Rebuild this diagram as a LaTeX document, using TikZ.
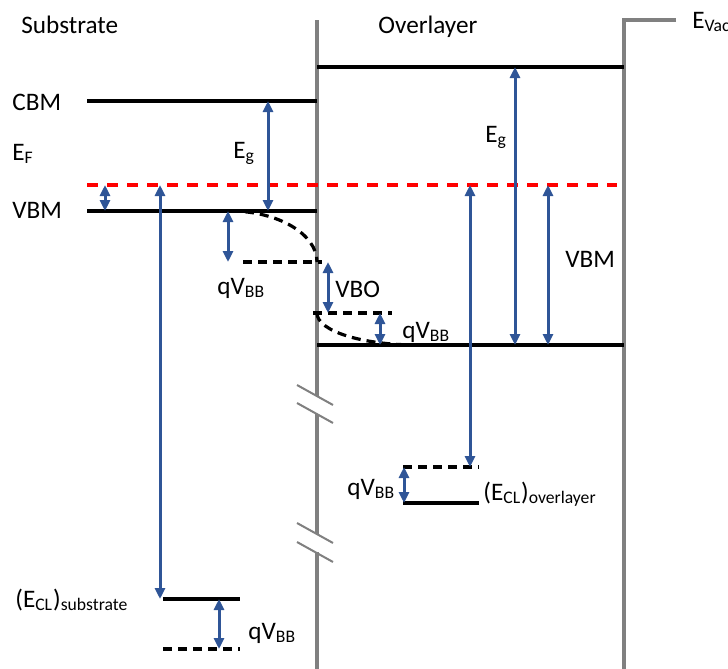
\documentclass[tikz,border=0pt]{standalone}
\usepackage{fontspec}
\setmainfont{Carlito}
\usetikzlibrary{arrows.meta,positioning}
\definecolor{arrowblue}{HTML}{2F5597}
\definecolor{wallgray}{HTML}{808080}
\newcommand{\lsub}[1]{\textsubscript{#1}}

\begin{document}
\begin{tikzpicture}[
    x=0.5pt, y=-0.5pt,
    level/.style={draw=black, line width=1.9pt},
    bent/.style={draw=black, line width=1.6pt, dash pattern=on 4.5pt off 3pt},
    fermi/.style={draw=red, line width=1.6pt, dash pattern=on 5.5pt off 4.5pt},
    wall/.style={draw=wallgray, line width=1.8pt},
    brk/.style={draw=wallgray, line width=1pt},
    arr/.style={{Triangle[length=5.5pt,width=5pt]}-{Triangle[length=5.5pt,width=5pt]}, draw=arrowblue, line width=1.5pt},
    lbl/.style={font=\fontsize{12.6}{15}\selectfont, inner sep=0pt, anchor=base west},
]
\useasboundingbox (0,0) rectangle (728,669);

% Titles
\node[lbl] (tsub) at (21,33) {Substrate};
\node[lbl] (tov) at (378,33) {Overlayer};
\node[lbl] (evac) at (692,28) {E\lsub{Vac}};

% Interface and vacuum walls
\foreach \n/\x/\y in {wa/317/20, wb/317/396, wc/317/414, wd/317/534, we/317/552, wf/317/669,
                      va/676/20, vb/624/20, vc/624/669}
  \coordinate (\n) at (\x,\y);
\draw[wall] (wa) -- (wb);
\draw[wall] (wc) -- (wd);
\draw[wall] (we) -- (wf);
\draw[wall] (va) -- (vb) -- (vc);

% Break marks
\foreach \n/\y in {ka/385, kb/403, kc/523, kd/542} {
  \coordinate (\n1) at (297,\y);
  \coordinate (\n2) at (333,\y+20);
  \draw[brk] (\n1) -- (\n2);
}

% Band edges
\foreach \n/\xa/\xb/\y in {cbmS/87/317/101, vbmS/87/317/211, cbmO/317/624/67, vbmO/317/624/345,
                           clO/403/479/503, clS/163/240/599} {
  \coordinate (\n l) at (\xa,\y);
  \coordinate (\n r) at (\xb,\y);
  \draw[level] (\n l) -- (\n r);
}

% Fermi level
\coordinate (efl) at (87,185);
\coordinate (efr) at (617,185);
\draw[fermi] (efl) -- (efr);

% Band bending
\foreach \n/\xa/\xb/\y in {bbS/243/322/262, bbO/313/392/313, clOd/403/479/467, clSd/163/240/649} {
  \coordinate (\n l) at (\xa,\y);
  \coordinate (\n r) at (\xb,\y);
  \draw[bent] (\n l) -- (\n r);
}
\coordinate (cvSa) at (230,211);
\coordinate (cvSb) at (317,262);
\draw[bent] (cvSa) .. controls (278,211) and (317,234) .. (cvSb);
\coordinate (cvOa) at (317,313);
\coordinate (cvOb) at (417,345);
\draw[bent] (cvOa) .. controls (317,331) and (362,345) .. (cvOb);

% Energy differences
\foreach \n/\x/\ya/\yb in {aF/105/185/211, aGS/268/101/211, aCS/160/185/599, aBS/228/211/262,
                           aVO/328/262/313, aBO/380/313/345, aGO/515/67/345, aVM/548/185/345,
                           aCO/470/185/467, aBC/404/467/503, aBL/219/599/649} {
  \coordinate (\n t) at (\x,\ya);
  \coordinate (\n b) at (\x,\yb);
  \draw[arr] (\n t) -- (\n b);
}

% Labels
\node[lbl] (lcbm) at (12,110) {CBM};
\node[lbl] (lef) at (12,160) {E\lsub{F}};
\node[lbl] (lvbm) at (12,218) {VBM};
\node[lbl] (lgS) at (233,158) {E\lsub{g}};
\node[lbl] (lbS) at (217,294) {qV\lsub{BB}};
\node[lbl] (lvbo) at (335,297) {VBO};
\node[lbl] (lbO) at (402,338) {qV\lsub{BB}};
\node[lbl] (lgO) at (485,142) {E\lsub{g}};
\node[lbl] (lvO) at (565,267) {VBM};
\node[lbl] (lbC) at (347,495) {qV\lsub{BB}};
\node[lbl] (lclO) at (483,500) {(E\lsub{CL})\lsub{overlayer}};
\node[lbl] (lclS) at (15,607) {(E\lsub{CL})\lsub{substrate}};
\node[lbl] (lbL) at (248,639) {qV\lsub{BB}};

\end{tikzpicture}
\end{document}
